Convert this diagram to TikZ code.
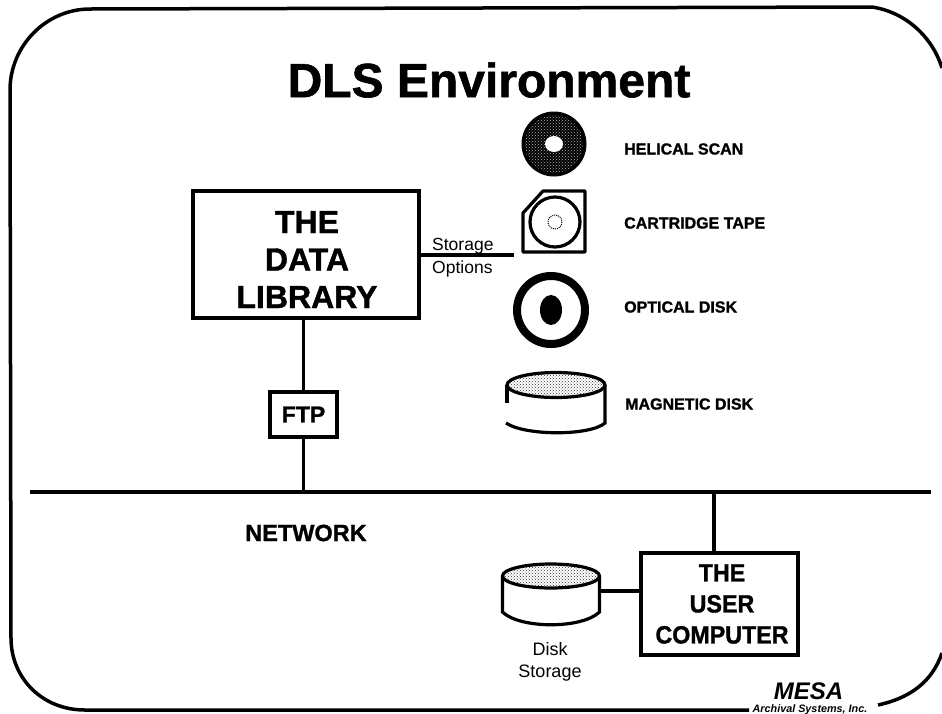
\documentclass[tikz,border=0pt]{standalone}
\usepackage{fontspec}
\setmainfont{Liberation Sans}[BoldFeatures={FakeBold=1.2}]
\usetikzlibrary{patterns,shapes.geometric}
\tikzset{
  ln/.style={line width=3.2pt,black},
  boxnode/.style={draw,line width=3.3pt,black,inner sep=0pt},
  boxtext/.style={inner sep=0pt,align=center},
  medialabel/.style={anchor=west,inner sep=0pt,font=\bfseries\fontsize{16}{17}\selectfont},
  plain/.style={inner sep=0pt,align=center,font=\fontsize{18}{22.5}\selectfont},
  blank/.style={inner sep=0pt,minimum width=#1,minimum height=#1},
}
\begin{document}
\begin{tikzpicture}[x=1pt,y=-1pt]
\useasboundingbox (0,0) rectangle (942,713);
\fill[white] (0,0) rectangle (942,713);
% outer frame
\draw[ln,line width=3.5pt] (749,710) -- (85,710) .. controls (42,710) and (11,678) .. (11,638)
  -- (10,90) .. controls (10,46) and (46,9) .. (90,9) -- (872,7) .. controls (905,12) and (932,36) .. (942,68);
\draw[ln,line width=3.5pt] (942,653) .. controls (932,682) and (910,698) .. (878,705);
% title
\node[inner sep=0pt,font=\bfseries\fontsize{48}{50}\selectfont] (title) at (489,80) {DLS Environment};
% main boxes
\node[boxnode,minimum width=226pt,minimum height=127pt] (lib) at (306,254.5) {};
\node[boxtext,font=\bfseries\fontsize{32}{37.5}\selectfont] (libtext) at (307,259.5) {THE\\DATA\\LIBRARY};
\node[boxnode,minimum width=67pt,minimum height=45pt,font=\bfseries\fontsize{23}{24}\selectfont] (ftp) at (303.5,414.5) {FTP};
\node[boxnode,minimum width=157pt,minimum height=102pt] (user) at (719.5,604) {};
\node[boxtext,xscale=.93,transform shape,font=\bfseries\fontsize{25}{31}\selectfont] (usertext) at (722,604) {THE\\USER\\COMPUTER};
% network
\coordinate (netL) at (30,492);
\coordinate (netR) at (931,492);
\draw[ln] (netL) -- (netR);
\node[inner sep=0pt,font=\bfseries\fontsize{23.5}{26}\selectfont] (netlab) at (306,533) {NETWORK};
\draw[ln] (lib.south -| ftp) -- (ftp.north);
\draw[ln] (ftp.south) -- (ftp |- netL);
\draw[ln] (user.north -| 714,0) -- (714,492);
% storage options
\coordinate (storeEnd) at (514,255);
\draw[ln] (lib.east |- storeEnd) -- (storeEnd);
\node[plain,anchor=west,align=left,font=\fontsize{17.5}{23}\selectfont] (opts) at (432,258) {Storage\\Options};
% helical scan
\node[circle,blank=65pt] (hel) at (554,144) {};
\fill[black] (hel) circle (32.5);
\fill[pattern=crosshatch dots,pattern color=white!70!black] (hel) circle (29);
\fill[white] (hel) ellipse (9 and 8);
\node[medialabel] (hellab) at (624,149) {HELICAL SCAN};
% cartridge
\node[blank=62pt] (cart) at (554,221.5) {};
\draw[ln,line join=round] (543,191) -- (585,191) -- (585,252) -- (523,252) -- (523,213) -- cycle;
\draw[ln,fill=white] (555,222) circle (25);
\draw[densely dotted,line width=1pt] (555,222) circle (7);
\node[medialabel] (cartlab) at (624,223) {CARTRIDGE TAPE};
% optical
\node[circle,blank=76pt] (opt) at (551,310) {};
\draw[line width=8pt] (opt) circle (34);
\fill[black] (opt) ellipse (11 and 15);
\node[medialabel] (optlab) at (624,307) {OPTICAL DISK};
% magnetic disk
\node[blank=60pt] (mag) at (556,408) {};
\draw[ln,pattern=crosshatch dots,pattern color=black!80] (556,385) ellipse (49 and 12.5);
\draw[ln] (507,385) -- (507,403);
\draw[ln] (506,423) .. controls (525,436) and (590,436) .. (605,423) -- (605,385);
\node[medialabel] (maglab) at (625,404) {MAGNETIC DISK};
% disk storage
\node[blank=50pt] (dsk) at (551,600) {};
\draw[ln,pattern=crosshatch dots,pattern color=black!80] (551,576) ellipse (48.5 and 12);
\draw[ln] (502.5,576) -- (502.5,612) .. controls (520,629) and (582,629) .. (599.5,612) -- (599.5,576);
\coordinate (dskE) at (599.5,591);
\draw[ln] (dskE) -- (user.west |- dskE);
\node[plain] (dsklab) at (550,662) {Disk\\Storage};
% logo
\node[inner sep=0pt,font=\bfseries\itshape\fontsize{24}{24}\selectfont] (mesa) at (808.5,691.5) {MESA};
\node[inner sep=0pt,font=\bfseries\itshape\fontsize{10.8}{11}\selectfont] (arch) at (810,709.5) {Archival Systems, Inc.};
\end{tikzpicture}
\end{document}
